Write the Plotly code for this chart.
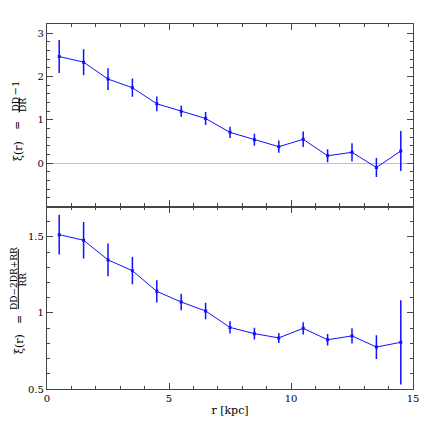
import plotly.graph_objects as go
from plotly.subplots import make_subplots

# bin centres in kpc
r = [0.5, 1.5, 2.5, 3.5, 4.5, 5.5, 6.5, 7.5, 8.5, 9.5, 10.5, 11.5, 12.5, 13.5, 14.5]

# xi(r) = DD/DR - 1
xi_dp = [2.46, 2.33, 1.94, 1.74, 1.37, 1.20, 1.03, 0.71, 0.54, 0.38, 0.55, 0.17, 0.25, -0.10, 0.28]
err_dp = [0.38, 0.30, 0.25, 0.21, 0.17, 0.13, 0.15, 0.13, 0.14, 0.14, 0.18, 0.15, 0.21, 0.22, 0.46]

# xi(r) = (DD - 2DR + RR)/RR
xi_ls = [1.515, 1.478, 1.349, 1.278, 1.142, 1.072, 1.013, 0.905, 0.864, 0.836, 0.899, 0.824, 0.849, 0.776, 0.807]
err_ls = [0.13, 0.12, 0.107, 0.09, 0.073, 0.054, 0.054, 0.04, 0.038, 0.033, 0.04, 0.038, 0.05, 0.078, 0.277]

# the page body adds an 8px offset, so the figure is drawn slightly smaller
OFF = 8
W, H = 436 - OFF, 436 - OFF
ML, MR, MT, MB = 47 - OFF, 23, 24 - OFF, 47
BLUE = "#1010ff"
AXC = "#444444"
SERIF = "DejaVu Serif"


def px(x):
    # x in pixels of the final 436px picture
    return (x - OFF - ML) / (W - ML - MR)


def py(y):
    return (H - MB - (y - OFF)) / (H - MT - MB)


fig = make_subplots(rows=2, cols=1, shared_xaxes=True, vertical_spacing=0)

for row, vals, errs in [(1, xi_dp, err_dp), (2, xi_ls, err_ls)]:
    fig.add_trace(
        go.Scatter(
            x=r,
            y=vals,
            mode="lines+markers",
            line=dict(color=BLUE, width=1),
            marker=dict(symbol="square", size=3, color=BLUE),
            error_y=dict(type="data", array=errs, color=BLUE, thickness=1.5, width=0),
            showlegend=False,
        ),
        row=row,
        col=1,
    )

axis_common = dict(
    showline=True,
    linecolor=AXC,
    linewidth=1.2,
    mirror="allticks",
    ticks="inside",
    ticklen=6,
    tickwidth=1.2,
    tickcolor=AXC,
    showgrid=False,
    automargin=False,
    tickfont=dict(family=SERIF, size=10, color="black"),
)

fig.update_xaxes(
    range=[0, 15],
    dtick=5,
    minor=dict(dtick=1, ticks="inside", ticklen=3, tickcolor=AXC, tickwidth=1),
    zeroline=False,
    **axis_common,
)
fig.update_xaxes(
    title=dict(text="r [kpc]", font=dict(family=SERIF, size=11, color="black"), standoff=3),
    row=2,
    col=1,
)
fig.update_yaxes(
    range=[-1.0, 3.21],
    tickvals=[0, 1, 2, 3],
    minor=dict(dtick=0.2, ticks="inside", ticklen=3, tickcolor=AXC, tickwidth=1),
    zeroline=True,
    zerolinecolor="#c0c0c0",
    zerolinewidth=1,
    row=1,
    col=1,
    **axis_common,
)
fig.update_yaxes(
    range=[0.5, 1.7],
    tickvals=[0.5, 1, 1.5],
    ticktext=["0.5", "1", "1.5"],
    minor=dict(dtick=0.1, ticks="inside", ticklen=3, tickcolor=AXC, tickwidth=1),
    zeroline=False,
    row=2,
    col=1,
    **axis_common,
)

# y-axis labels built from pieces so the fractions can be stacked
def label(text, x, y, size=11):
    fig.add_annotation(
        text=text,
        x=px(x),
        y=py(y),
        xref="paper",
        yref="paper",
        textangle=-90,
        showarrow=False,
        xanchor="center",
        yanchor="middle",
        font=dict(family=SERIF, size=size, color="black"),
    )


def bar(x, y0, y1):
    fig.add_shape(
        type="line",
        xref="paper",
        yref="paper",
        x0=px(x),
        x1=px(x),
        y0=py(y0),
        y1=py(y1),
        line=dict(color="black", width=1),
    )


# top: xi(r) = DD/DR - 1
label("ξ(r)", 18, 151)
label("=", 18, 126)
label("DD", 15.5, 105, 9)
label("DR", 23, 105, 9)
bar(19.3, 97.5, 112.5)
label("−1", 15.5, 88, 10)

# bottom: xi(r) = (DD - 2DR + RR)/RR
label("ξ(r)", 19, 344)
label("=", 19, 320)
label("DD−2DR+RR", 14, 279, 9)
label("RR", 22.5, 279, 9)
bar(18.3, 249, 309)

fig.update_layout(
    width=W,
    height=H,
    margin=dict(l=ML, r=MR, t=MT, b=MB, autoexpand=False),
    paper_bgcolor="white",
    plot_bgcolor="white",
)

fig.write_html("out.html")
